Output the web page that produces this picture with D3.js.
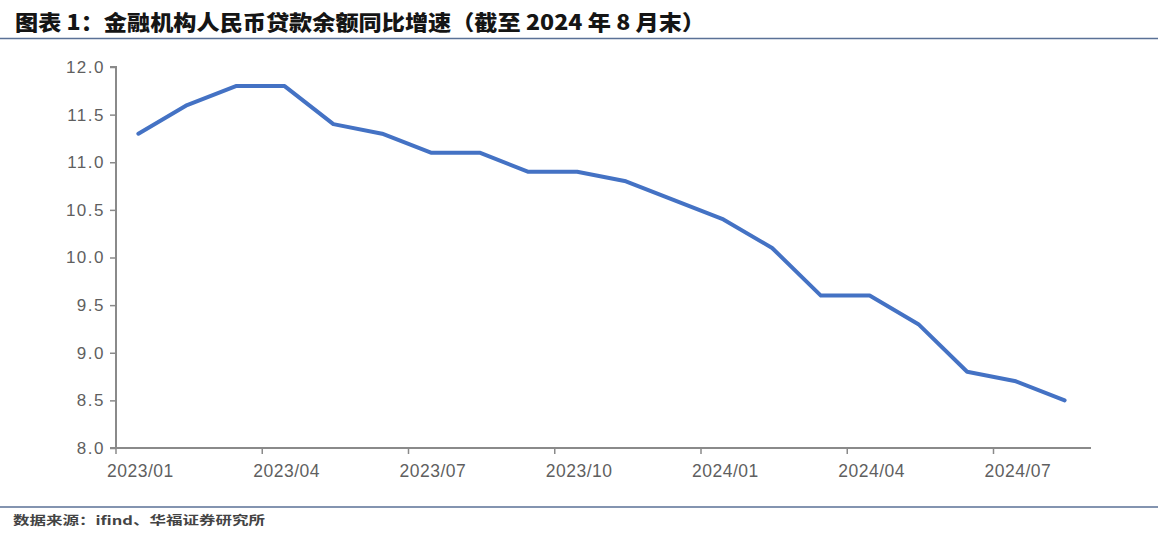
<!DOCTYPE html>
<html><head><meta charset="utf-8">
<script src="https://cdn.jsdelivr.net/npm/d3@7"></script>
<style>
html,body{margin:0;padding:0;background:#fff;}
svg{display:block;}
</style></head>
<body>
<svg id="c" width="1158" height="542"></svg>
<script>
const months = ["2023/01","2023/02","2023/03","2023/04","2023/05","2023/06","2023/07","2023/08","2023/09","2023/10","2023/11","2023/12",
                "2024/01","2024/02","2024/03","2024/04","2024/05","2024/06","2024/07","2024/08"];
const growth = [11.3,11.6,11.8,11.8,11.4,11.3,11.1,11.1,10.9,10.9,10.8,10.6,10.4,10.1,9.6,9.6,9.3,8.8,8.7,8.5];
const xTickLabels = ["2023/01","2023/04","2023/07","2023/10","2024/01","2024/04","2024/07"];
const yTicks = [8.0,8.5,9.0,9.5,10.0,10.5,11.0,11.5,12.0];
const titleText = "图表 1：金融机构人民币贷款余额同比增速（截至 2024 年 8 月末）";
const sourceText = "数据来源：ifind、华福证券研究所";

const svg = d3.select("#c");
const W = 1158, H = 542;

// title
svg.append("text").attr("x",15).attr("y",30)
  .attr("font-family","'Noto Sans CJK SC'").attr("font-weight",900).attr("font-size",21)
  .attr("fill","#151515").attr("textLength",690).attr("lengthAdjust","spacingAndGlyphs")
  .text(titleText);
svg.append("line").attr("x1",0).attr("x2",W).attr("y1",38.5).attr("y2",38.5)
  .attr("stroke","#5a7196").attr("stroke-width",1.6);

// footer
svg.append("line").attr("x1",0).attr("x2",W).attr("y1",507).attr("y2",507)
  .attr("stroke","#5a7196").attr("stroke-width",1.6);
svg.append("text").attr("x",13).attr("y",525)
  .attr("font-family","'Noto Sans CJK SC'").attr("font-weight",700).attr("font-size",12)
  .attr("fill","#444").attr("textLength",252).attr("lengthAdjust","spacingAndGlyphs")
  .text(sourceText);

const x = d3.scaleBand().domain(months).range([116,1091]).paddingInner(0).paddingOuter(0);
const y = d3.scaleLinear().domain([8,12]).range([448,67]);

const axisColor = "#8a8a8a";
const labelColor = "#5f5f5f";
const fontFam = "'Liberation Sans', Arial, sans-serif";

// y axis
const yAxis = svg.append("g").attr("transform","translate(116,0)")
  .call(d3.axisLeft(y).tickValues(yTicks).tickFormat(d3.format(".1f")).tickSize(6).tickPadding(5));
yAxis.select(".domain").attr("stroke",axisColor).attr("stroke-width",2).attr("d","M-6,67H0V448H-6");
yAxis.selectAll(".tick line").attr("stroke",axisColor).attr("stroke-width",1.5);
yAxis.selectAll(".tick text").attr("fill",labelColor).attr("font-family",fontFam)
  .attr("font-size",17).attr("letter-spacing",1.5);

// x axis (labels at band centers)
const xAxis = svg.append("g").attr("transform","translate(0,448)")
  .call(d3.axisBottom(x).tickValues(xTickLabels).tickSize(0).tickPadding(17));
xAxis.select(".domain").attr("stroke",axisColor).attr("stroke-width",2).attr("d","M116,0H1091");
xAxis.selectAll(".tick text").attr("fill",labelColor).attr("font-family",fontFam)
  .attr("font-size",17.5).attr("letter-spacing",0.5);
// tick marks at band starts
xAxis.selectAll("line.mt").data(xTickLabels).enter().append("line").attr("class","mt")
  .attr("x1",d=>x(d)).attr("x2",d=>x(d)).attr("y1",0).attr("y2",6)
  .attr("stroke",axisColor).attr("stroke-width",1.5);

// line
const line = d3.line().x((d,i)=>x(months[i])+x.bandwidth()/2 - 2).y(d=>y(d));
svg.append("path").datum(growth).attr("d",line)
  .attr("fill","none").attr("stroke","#4472c4").attr("stroke-width",4)
  .attr("stroke-linejoin","round").attr("stroke-linecap","round");
</script>
</body></html>
